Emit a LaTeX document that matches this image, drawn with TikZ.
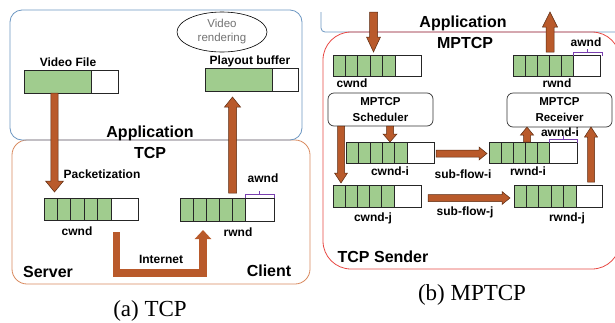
\documentclass[tikz,border=0pt]{standalone}
\usepackage{fontspec}
\setmainfont{Liberation Sans}
\newfontfamily\capfont{Liberation Serif}
\usetikzlibrary{calc,fit,shapes.geometric,arrows.meta}
\definecolor{cellgreen}{HTML}{A0CC8E}
\definecolor{arrbrown}{HTML}{B95A2B}
\definecolor{arrdark}{HTML}{5A2A10}
\definecolor{appblue}{HTML}{6C97C2}
\definecolor{tcporange}{HTML}{D98A5F}
\definecolor{mpred}{HTML}{E84A46}
\definecolor{bracepurple}{HTML}{7A3FB0}
\tikzset{
  barline/.style={draw=black!85, line width=0.8pt},
  blk/.style={fill=arrbrown, draw=arrdark, line width=0.5pt, line join=miter},
  lbl/.style={font=\bfseries\fontsize{12}{13}\selectfont, inner sep=0pt},
  big/.style={font=\bfseries\fontsize{16}{18}\selectfont, inner sep=0pt},
  capt/.style={font=\capfont\fontsize{23}{26}\selectfont, inner sep=0pt},
  brc/.style={draw=bracepurple, line width=0.7pt},
  boxtxt/.style={draw=black!80, line width=0.7pt, rounded corners=6pt, fill=white, align=center,
     font=\bfseries\fontsize{11.5}{16}\selectfont, inner sep=0pt},
}
% bar: name, x1, y1, x2, y2, x of green end, number of cells
\newcommand\wbar[7]{%
  \node[inner sep=0pt, fit={(#2,#3)(#4,#5)}] (#1) {};
  \draw[barline, fill=white] (#6,#3) rectangle (#4,#5);
  \foreach \k in {1,...,#7}{
    \pgfmathsetmacro\xa{#2+(\k-1)*(#6-#2)/#7}
    \pgfmathsetmacro\xb{#2+\k*(#6-#2)/#7}
    \draw[barline, fill=cellgreen] (\xa,#3) rectangle (\xb,#5);
  }}
% vertical block arrow: start, tip, shaft half, head half, signed head offset
\newcommand\blkv[5]{%
  \path[blk] ($(#1)+(-#3,0)$) -- ($(#2)+(-#3,#5)$) -- ($(#2)+(-#4,#5)$) -- (#2)
    -- ($(#2)+(#4,#5)$) -- ($(#2)+(#3,#5)$) -- ($(#1)+(#3,0)$) -- cycle;}
% horizontal block arrow to the right
\newcommand\blkh[5]{%
  \path[blk] ($(#1)+(0,-#3)$) -- ($(#2)+(-#5,-#3)$) -- ($(#2)+(-#5,-#4)$) -- (#2)
    -- ($(#2)+(-#5,#4)$) -- ($(#2)+(-#5,#3)$) -- ($(#1)+(0,#3)$) -- cycle;}
% brace over a bar: x1, x2, y
\newcommand\wbrace[3]{%
  \draw[brc] (#1,#3+4) -- (#1,#3) -- (#2,#3) -- (#2,#3+4);
  \draw[brc] ({(#1+#2)/2},#3) -- ({(#1+#2)/2},#3-3);}
\begin{document}
\begin{tikzpicture}[x=1pt,y=-1pt]
\useasboundingbox (0,0) rectangle (615,322);
\clip (0,0) rectangle (615,322);
\fill[white] (0,0) rectangle (615,322);

% ================= (a) TCP =================
\draw[tcporange, line width=0.8pt, rounded corners=15pt] (12,140) rectangle (310,284);
\draw[appblue, line width=0.8pt, rounded corners=12pt] (10,10) rectangle (302,140);

\node[draw=black, line width=0.6pt, ellipse, minimum width=90pt, minimum height=40pt, inner sep=0pt,
      align=center, text=black!55, font=\fontsize{11.5}{14}\selectfont] (vr) at (222,32) {Video\\rendering};

\node[lbl] (vflbl) at (68,62) {Video File};
\wbar{vf}{24}{70}{118}{93}{91}{1}
\node[lbl] (pblbl) at (250,61) {Playout buffer};
\wbar{pb}{205}{68}{298}{91}{272}{1}

\node[big] (apl) at (150,133) {Application};
\node[big] (tcpl) at (150,153) {TCP};
\node[lbl] (pk) at (102,174) {Packetization};

\wbar{cw}{44}{198}{138}{220}{111}{5}
\node[lbl] (cwl) at (77,231) {cwnd};
\wbar{rw}{180}{198}{274}{221}{245}{5}
\node[lbl] (rwl) at (238,232) {rwnd};
\wbrace{245}{274}{194}
\node[lbl] (aw) at (263,178) {awnd};

\coordinate (a1s) at (54.5,93);
\coordinate (a1t) at (54.5,192);
\blkv{a1s}{a1t}{3.7}{9}{-11}
\coordinate (a2s) at (232.5,193);
\coordinate (a2t) at (232.5,97);
\blkv{a2s}{a2t}{4}{8}{10}

\coordinate (in1) at (116.5,232);
\coordinate (in2) at (116.5,273);
\coordinate (in3) at (203,273);
\coordinate (in4) at (203,230);
\draw[arrbrown, line width=7.5pt, line join=miter, -{Triangle[width=16pt,length=9pt]}]
  (in1) -- (in2) -- (in3) -- (in4);
\node[lbl] (inl) at (161,259) {Internet};

\node[big] (srv) at (48,272) {Server};
\node[big] (cli) at (269,271) {Client};
\node[capt] (capa) at (150,311) {(a) TCP};

% ================= (b) MPTCP =================
\draw[appblue, line width=0.8pt, rounded corners=4pt] (321,12) -- (321,32) -- (640,32);
\draw[mpred, line width=0.8pt, rounded corners=28pt] (323,32) rectangle (620,269);

\node[big] (apr) at (463,23) {Application};
\node[big] (mpl) at (465,43) {MPTCP};

\coordinate (b1s) at (373.5,12);
\coordinate (b1t) at (373.5,52);
\blkv{b1s}{b1t}{4}{7}{-15}
\wbar{cwt}{333}{55}{421}{76}{395}{5}
\node[lbl] (cwtl) at (352,83) {cwnd};

\coordinate (b2s) at (550,52);
\coordinate (b2t) at (550,12);
\blkv{b2s}{b2t}{4}{7.5}{15}
\wbar{rwt}{513}{55}{600}{76}{573}{5}
\node[lbl] (rwtl) at (557,83) {rwnd};
\wbrace{573}{602}{52}
\node[lbl] (awt) at (586,42) {awnd};

\node[boxtxt, minimum width=105pt, minimum height=33pt] (sch) at (380.5,109.5) {MPTCP\\Scheduler};
\node[boxtxt, minimum width=105pt, minimum height=34pt] (rcv) at (559.5,110) {MPTCP\\Receiver};

\wbar{cwi}{346}{142}{434}{163}{407}{5}
\node[lbl] (cwil) at (390,171) {cwnd-i};
\wbar{rwi}{489}{142}{577}{163}{549}{5}
\node[lbl] (rwil) at (528,171) {rwnd-i};
\wbrace{549}{577}{139}
\node[lbl] (awi) at (560,132) {awnd-i};
\wbar{cwj}{333}{185}{421}{207}{394}{5}
\node[lbl] (cwjl) at (373,218) {cwnd-j};
\wbar{rwj}{514}{185}{602}{207}{576}{5}
\node[lbl] (rwjl) at (567,218) {rwnd-j};

\coordinate (c1s) at (390,126);
\coordinate (c1t) at (390,142);
\blkv{c1s}{c1t}{3.5}{7}{-8}
\coordinate (c2s) at (341,126);
\coordinate (c2t) at (341,183);
\blkv{c2s}{c2t}{3.5}{6.5}{-10}
\coordinate (c3s) at (527,142);
\coordinate (c3t) at (527,127);
\blkv{c3s}{c3t}{3.5}{6.5}{8}
\coordinate (c4s) at (591,182);
\coordinate (c4t) at (591,127);
\blkv{c4s}{c4t}{3.5}{6.5}{10}

\coordinate (s1s) at (436,153.5);
\coordinate (s1t) at (487,153.5);
\blkh{s1s}{s1t}{3.5}{6.5}{8}
\node[lbl] (s1l) at (463,174) {sub-flow-i};
\coordinate (s2s) at (428,198);
\coordinate (s2t) at (510,198);
\blkh{s2s}{s2t}{3.5}{6.5}{8}
\node[lbl] (s2l) at (465,212) {sub-flow-j};

\node[big] (snd) at (383,257) {TCP Sender};
\node[capt] (capb) at (472,295) {(b) MPTCP};
\end{tikzpicture}
\end{document}
